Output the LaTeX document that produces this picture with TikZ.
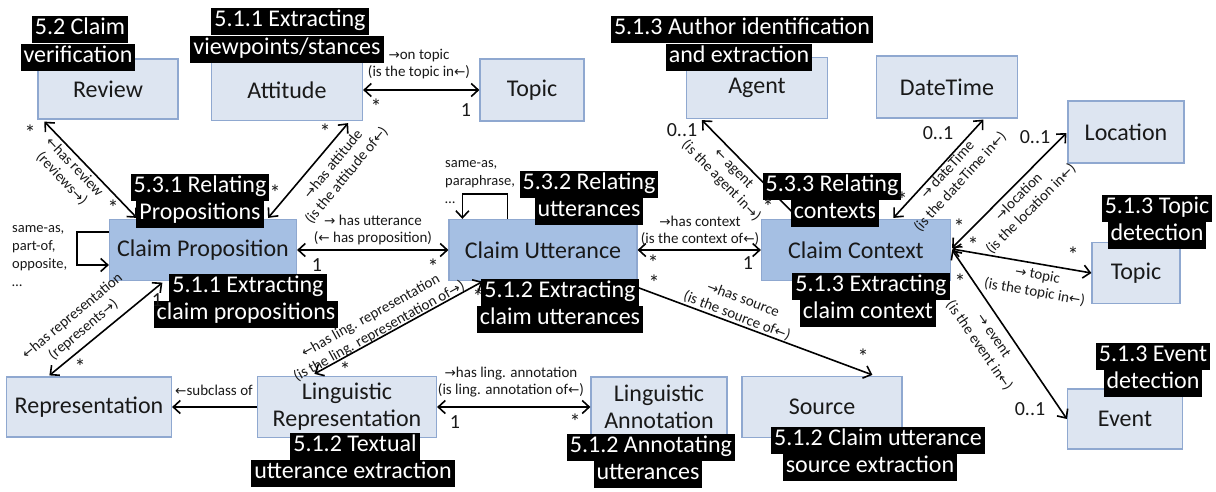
\documentclass[tikz,border=0pt]{standalone}
\usepackage{fontspec}
\setmainfont{Carlito}
\newfontfamily\symfont[Scale=0.9]{DejaVu Sans}
\usetikzlibrary{arrows.meta,calc}
\newcommand{\rarr}{{\symfont →}}
\newcommand{\larr}{{\symfont ←}}
\definecolor{lightc}{RGB}{221,229,241}
\definecolor{darkc}{RGB}{165,191,227}
\definecolor{bordc}{RGB}{143,168,208}
\definecolor{txt}{RGB}{25,25,25}
\tikzset{
  cls/.style={draw=bordc, line width=1.2pt, fill=lightc, inner sep=0pt, text=txt, align=center, font=\fontsize{24}{27}\selectfont},
  mainc/.style={cls, fill=darkc},
  tag/.style={fill=black, text=white, inner xsep=3pt, inner ysep=2.25pt, text height=17pt, text depth=5.5pt, font=\fontsize{24}{27}\selectfont},
  conn/.style={line width=1.6pt, {Straight Barb[length=7pt,width=13pt]}-{Straight Barb[length=7pt,width=13pt]}},
  conr/.style={line width=1.6pt, -{Straight Barb[length=7pt,width=13pt]}},
  lab/.style={font=\fontsize{15}{17.5}\selectfont, align=center, inner sep=0pt, text=txt},
  labl/.style={font=\fontsize{14.5}{18}\selectfont, align=left, inner sep=0pt, text=txt},
  mult/.style={font=\fontsize{20}{22}\selectfont, inner sep=0pt, text=txt},
  star/.style={font=\fontsize{22}{22}\selectfont, inner sep=0pt, text=txt},
}
\begin{document}
\begin{tikzpicture}[x=1pt,y=-1pt]
\fill[white] (0,0) rectangle (1216,491);
\useasboundingbox (0,0) rectangle (1216,491);
% classes
\node[cls, minimum width=140pt, minimum height=60pt] (review) at (108,89) {Review};
\node[cls, minimum width=151pt, minimum height=61pt] (att) at (287,90) {Attitude};
\node[cls, minimum width=104pt, minimum height=62pt] (topicA) at (532,90) {Topic};
\node[cls, minimum width=141pt, minimum height=61pt] (agent) at (757,88) {Agent};
\node[cls, minimum width=141pt, minimum height=62pt] (dt) at (947,87) {DateTime};
\node[cls, minimum width=116pt, minimum height=62pt] (loc) at (1126,132) {Location};
\node[mainc, minimum width=187pt, minimum height=61pt] (cprop) at (203,250) {Claim Proposition};
\node[mainc, minimum width=188pt, minimum height=61pt] (cutt) at (543,250) {Claim Utterance};
\node[mainc, minimum width=189pt, minimum height=61pt] (cctx) at (856,250) {Claim Context};
\node[cls, minimum width=88pt, minimum height=61pt] (topicB) at (1136,273) {Topic};
\node[cls, minimum width=165pt, minimum height=60pt] (rep) at (89,407) {Representation};
\node[cls, minimum width=179pt, minimum height=61pt] (lingrep) at (347,407) {Linguistic\\Representation};
\node[cls, minimum width=136pt, minimum height=60pt] (lingann) at (659,407) {Linguistic\\Annotation};
\node[cls, minimum width=160pt, minimum height=61pt] (source) at (822,407) {Source};
\node[cls, minimum width=115pt, minimum height=60pt] (event) at (1125,419) {Event};
% connectors
\draw[conn] ($(review.south west)+(7,2)$) -- ($(cprop.north west)+(28,-1)$);
\draw[conn] ($(att.south east)+(-15,2)$) -- ($(cprop.north east)+(-29,-1)$);
\draw[conn] (att.east) -- (topicA.west);
\draw[conn] (cprop.east) -- (cutt.west);
\draw[conr] ($(cprop.west)+(0,-18)$) -- ++(-32,0) -- ++(0,33) -- ($(cprop.west)+(0,15)$);
\draw[conr] ($(cutt.north west)+(59,0)$) -- ++(0,-25) -- ++(-45,0) -- ($(cutt.north west)+(14,0)$);
\draw[conn] (cutt.east) -- (cctx.west);
\draw[conr] ($(cutt.south east)+(-17,0)$) -- ($(source.north west)+(131,-1)$);
\draw[conr] ($(cctx.north west)+(38,0)$) -- ($(agent.south west)+(16,1)$);
\draw[conn] ($(cctx.north west)+(132.5,-1)$) -- ($(dt.south west)+(107.5,1)$);
\draw[conn] ($(cctx.east)+(1,-2)$) -- ($(loc.west)+(-1,1)$);
\draw[conn] ($(cctx.east)+(1,-1)$) -- (topicB.west);
\draw[conn] ($(cctx.east)+(1,0)$) -- (event.west);
\draw[conn] ($(rep.north west)+(43.5,-1)$) -- ($(cprop.south west)+(53.5,1.5)$);
\draw[conn] ($(lingrep.north west)+(57.5,-2)$) -- ($(cutt.south west)+(34,0.5)$);
\draw[conr] (lingrep.west) -- (rep.east);
\draw[conn] (lingrep.east) -- (lingann.west);
% black tags
\node[tag] (t1a) at (80,29) {5.2 Claim};
\node[tag] (t1b) at (78,57) {verification};
\node[tag] (t2a) at (290,21) {5.1.1 Extracting};
\node[tag] (t2b) at (287,49) {viewpoints/stances};
\node[tag] (t3a) at (742,29) {5.1.3 Author identification};
\node[tag] (t3b) at (739,57) {and extraction};
\node[tag] (t4a) at (200,187) {5.3.1 Relating};
\node[tag] (t4b) at (200,214) {Propositions};
\node[tag] (t5a) at (248,287) {5.1.1 Extracting};
\node[tag] (t5b) at (246,314) {claim propositions};
\node[tag] (t6a) at (589,184) {5.3.2 Relating};
\node[tag] (t6b) at (589,211) {utterances};
\node[tag] (t7a) at (560,292) {5.1.2 Extracting};
\node[tag] (t7b) at (560,319) {claim utterances};
\node[tag] (t8a) at (832,186) {5.3.3 Relating};
\node[tag] (t8b) at (835,213) {contexts};
\node[tag] (t9a) at (871,286) {5.1.3 Extracting};
\node[tag] (t9b) at (868,313) {claim context};
\node[tag] (t10a) at (1157,208) {5.1.3 Topic};
\node[tag] (t10b) at (1157,235) {detection};
\node[tag] (t11a) at (1153,356) {5.1.3 Event};
\node[tag] (t11b) at (1153,383) {detection};
\node[tag] (t12a) at (355,446) {5.1.2 Textual};
\node[tag] (t12b) at (353,473) {utterance extraction};
\node[tag] (t13a) at (651,447) {5.1.2 Annotating};
\node[tag] (t13b) at (648,474) {utterances};
\node[tag] (t14a) at (878,440) {5.1.2 Claim utterance};
\node[tag] (t14b) at (870,467) {source extraction};
% edge labels
\node[lab, rotate=-46.5] (l1) at (68,173) {\larr has review\\(reviews\rarr)};
\node[lab, rotate=50.5] (l2) at (340,170) {\rarr has attitude\\(is the attitude of\larr)};
\node[lab] (l3) at (419,64) {\rarr on topic\\(is the topic in\larr)};
\node[lab] (l4) at (373,230) {\rarr{} has utterance\\(\larr{} has proposition)};
\node[labl, anchor=west] (l5) at (12,256) {same-as,\\part-of,\\opposite,\\…};
\node[labl, anchor=west] (l6) at (445,182) {same-as,\\paraphrase,\\…};
\node[lab] (l7) at (700,231) {\rarr has context\\(is the context of\larr)};
\node[lab, rotate=-20.9] (l8) at (740,308) {\rarr has source\\(is the source of\larr)};
\node[lab, rotate=-45.6] (l9) at (727,175) {\larr{} agent\\(is the agent in\rarr)};
\node[lab, rotate=47.7] (l10) at (954,176) {\rarr{} dateTime\\(is the dateTime in\larr)};
\node[lab, rotate=45] (l11) at (1025,203) {\rarr location\\(is the location in\larr)};
\node[lab, rotate=-9.8] (l12) at (1036,284) {\rarr{} topic\\(is the topic in\larr)};
\node[lab, rotate=-55.4] (l13) at (986,341) {\rarr{} event\\(is the event in\larr)};
\node[lab, rotate=39.8] (l14) at (78,323) {\larr has representation\\(represents\rarr)};
\node[lab, rotate=29] (l15) at (375,324) {\larr has ling. representation\\(is the ling. representation of\rarr)};
\node[lab] (l16) at (214,390) {\larr subclass of};
\node[lab] (l17) at (511,382) {\rarr has ling. annotation\\(is ling. annotation of\larr)};
% multiplicities
\node[star] (m1) at (30,133) {*};
\node[star] (m2) at (113,208) {*};
\node[star] (m3) at (325,132) {*};
\node[star] (m4) at (275,193) {*};
\node[star] (m5) at (376,107) {*};
\node[mult] (m6) at (466,110) {1};
\node[mult] (m7) at (317,265) {1};
\node[star] (m8) at (433,267) {*};
\node[star] (m9) at (653,263) {*};
\node[mult] (m10) at (748,263) {1};
\node[star] (m11) at (654,283) {*};
\node[star] (m12) at (863,357) {*};
\node[mult] (m13) at (682,130) {0..1};
\node[star] (m14) at (768,207) {*};
\node[mult] (m15) at (938,133) {0..1};
\node[star] (m16) at (902,200) {*};
\node[mult] (m17) at (1035,137) {0..1};
\node[star] (m18) at (959,227) {*};
\node[star] (m19) at (1073,255) {*};
\node[star] (m20) at (973,245) {*};
\node[mult] (m21) at (1030,409) {0..1};
\node[star] (m22) at (960,282) {*};
\node[mult] (m23) at (157,300) {1};
\node[star] (m24) at (80,367) {*};
\node[star] (m25) at (345,370) {*};
\node[star] (m26) at (478,297) {*};
\node[mult] (m27) at (455,422) {1};
\node[star] (m28) at (575,422) {*};
\end{tikzpicture}
\end{document}
